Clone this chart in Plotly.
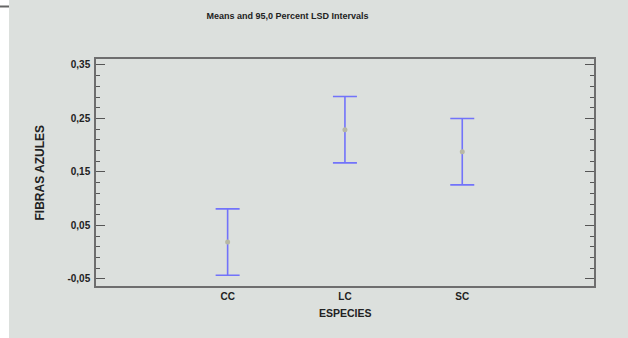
import plotly.graph_objects as go

# LSD interval summary per species
species = ["CC", "LC", "SC"]
means = [0.019, 0.229, 0.188]
half_width = [0.062, 0.062, 0.062]
y_tick_vals = [-0.05, 0.05, 0.15, 0.25, 0.35]

W, H = 628, 338
L, R, T, B = 96, 594, 59, 286  # plot-area edges in pixels


def px_x(p):
    return (p - L) / (R - L)


def px_y(p):
    return (B - p) / (B - T)


FAMILY = "Liberation Sans, Arial, sans-serif"
TICK_FONT = dict(family=FAMILY, size=10, color="#222222")

fig = go.Figure()
fig.add_trace(go.Scatter(
    x=list(range(len(species))),
    y=means,
    mode="markers",
    marker=dict(color="#b8b8a4", size=5),
    error_y=dict(type="data", array=half_width, symmetric=True,
                 color="rgba(95,95,255,0.85)", thickness=1.6, width=12),
    showlegend=False,
    hoverinfo="skip",
))

fig.update_layout(
    width=W, height=H,
    margin=dict(l=L, r=W - R, t=T, b=H - B),
    paper_bgcolor="white",
    plot_bgcolor="white",
    separators=",.",
    title=dict(text="<b>Means and 95,0 Percent LSD Intervals</b>",
               font=dict(family=FAMILY, size=9, color="#222222"),
               xref="container", yref="container",
               x=287.5 / W, y=1 - 15.5 / H, xanchor="center", yanchor="middle"),
    xaxis=dict(
        range=[-1.122, 3.123],
        tickvals=list(range(len(species))),
        ticktext=[f"<b>{s}</b>" for s in species],
        tickfont=TICK_FONT,
        ticks="",
        showgrid=False, zeroline=False,
        showline=True, linecolor="#6e6e6e", linewidth=1.5, mirror=True,
    ),
    yaxis=dict(
        range=[-0.0631, 0.3612],
        tickvals=y_tick_vals,
        ticktext=[f"<b>{v:.2f}</b>".replace(".", ",") for v in y_tick_vals],
        tickfont=TICK_FONT,
        ticks="inside", ticklen=9, tickcolor="#555555", tickwidth=1,
        minor=dict(dtick=0.02, tick0=-0.05, ticks="inside", ticklen=4,
                   tickcolor="#555555", tickwidth=1, showgrid=False),
        showgrid=False, zeroline=False,
        showline=True, linecolor="#6e6e6e", linewidth=1.5, mirror="ticks",
        ticklabelstandoff=2,
    ),
    shapes=[
        dict(type="rect", xref="paper", yref="paper", layer="below",
             x0=px_x(9), x1=px_x(W + 2), y0=px_y(H + 2), y1=px_y(-2),
             fillcolor="#dce0dd", line=dict(width=0)),
        dict(type="line", xref="paper", yref="paper",
             x0=px_x(0), x1=px_x(9), y0=px_y(6.5), y1=px_y(6.5),
             line=dict(color="#666666", width=2)),
    ],
    annotations=[
        dict(text="<b>ESPECIES</b>", xref="paper", yref="paper",
             x=px_x(345), y=px_y(313), xanchor="center", yanchor="middle",
             showarrow=False, font=dict(family=FAMILY, size=10.5, color="#222222")),
        dict(text="<b>FIBRAS AZULES</b>", xref="paper", yref="paper",
             x=px_x(39), y=px_y(172.5), xanchor="center", yanchor="middle",
             textangle=-90, showarrow=False,
             font=dict(family=FAMILY, size=12, color="#222222")),
    ],
)

fig.write_html("out.html")
